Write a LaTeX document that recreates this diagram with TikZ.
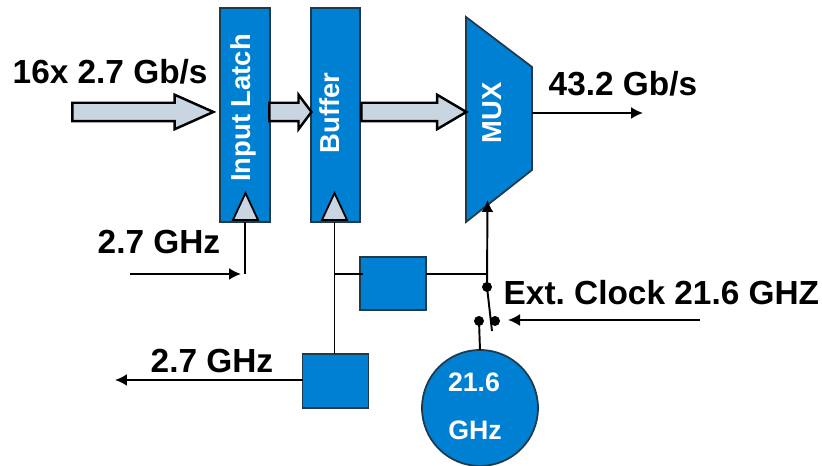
\documentclass[tikz,border=0pt]{standalone}
\usepackage{fontspec}
\setmainfont{Liberation Sans}
\frenchspacing
\usetikzlibrary{shapes.arrows,shapes.geometric,arrows.meta}
\definecolor{blockblue}{HTML}{0080D2}
\definecolor{arrowgrey}{HTML}{C9D6E1}
\definecolor{edgegrey}{HTML}{1F3A4D}
\tikzset{
  block/.style={draw=edgegrey, line width=0.5pt, fill=blockblue, inner sep=0pt},
  fat/.style 2 args={single arrow, draw=black, line width=0.7pt, fill=arrowgrey, inner sep=0.08cm,
    minimum height=#1, minimum width=0.32cm, single arrow head extend=0.08cm, single arrow tip angle=#2},
  clk/.style={isosceles triangle, isosceles triangle apex angle=50, shape border rotate=90,
    draw=black, line width=0.5pt, fill=arrowgrey, inner sep=0pt, minimum height=0.27cm, minimum width=0.25cm},
  lbl/.style={font=\fontsize{9.5}{11}\selectfont\bfseries, inner sep=0pt},
  inner/.style={font=\fontsize{7.8}{9}\selectfont\bfseries, text=white, inner sep=0pt},
  dot/.style={circle, fill=black, inner sep=0pt, minimum size=0.1cm},
  wire/.style={line width=0.55pt},
  sig/.style={line width=0.55pt, -{Latex[length=0.12cm,width=0.12cm]}},
}
\begin{document}
\begin{tikzpicture}
\useasboundingbox (0,0) rectangle (8.22,4.66);

%% blocks
\node[block, minimum width=0.5cm, minimum height=2.14cm] (latch) at (2.45,3.51) {};
\node[block, minimum width=0.49cm, minimum height=2.14cm] (buffer) at (3.355,3.51) {};
\node[inner, rotate=90] (latchtext) at (2.43,3.58) {Input Latch};
\node[inner, rotate=90] (buffertext) at (3.3,3.53) {Buffer};
\coordinate (muxa) at (4.66,4.49);
\coordinate (muxb) at (5.32,3.99);
\coordinate (muxc) at (5.32,2.96);
\coordinate (muxd) at (4.66,2.44);
\draw[block] (muxa) -- (muxb) -- (muxc) -- (muxd) -- cycle;
\node[inner, rotate=90] (muxtext) at (4.92,3.53) {MUX};
\node[block, minimum width=0.66cm, minimum height=0.53cm] (divider) at (3.93,1.825) {};
\node[block, minimum width=0.66cm, minimum height=0.54cm] (outdiv) at (3.355,0.85) {};
\node[block, circle, minimum size=1.16cm] (osc) at (4.8,0.58) {};
\node[inner, font=\fontsize{7.6}{9}\selectfont\bfseries] (osctop) at (4.74,0.84) {21.6};
\node[inner, font=\fontsize{7.6}{9}\selectfont\bfseries] (oscbot) at (4.75,0.36) {GHz};

%% wide arrows
\node[fat={1.41cm}{48}] (inarrow) at (1.325,3.54) {};
\node[fat={0.42cm}{106}] (latcharrow) at (2.87,3.54) {};
\node[fat={1.05cm}{61}] (bufarrow) at (4.06,3.54) {};

%% clock triangles
\node[clk, anchor=south] (latchclk) at (2.455,2.45) {};
\node[clk, anchor=south] (bufclk) at (3.345,2.45) {};

%% switch
\node[dot] (swtop) at (4.87,1.79) {};
\node[dot] (swleft) at (4.79,1.45) {};
\node[dot] (swright) at (4.95,1.45) {};
\coordinate (swend) at (4.92,1.35);

%% free ends and junctions
\coordinate (latchfoot) at (2.45,1.92);
\coordinate (clkin) at (1.3,1.92);
\coordinate (clkstop) at (2.41,1.92);
\coordinate (bufnode) at (3.345,1.92);
\coordinate (divnode) at (4.875,1.92);
\coordinate (muxin) at (4.875,2.66);
\coordinate (outend) at (6.43,3.53);
\coordinate (muxout) at (5.32,3.53);
\coordinate (extin) at (7.0,1.46);
\coordinate (extstop) at (5.08,1.46);
\coordinate (outleft) at (1.15,0.86);
\coordinate (outright) at (3.03,0.86);

%% wires
\draw[wire] (2.45,2.44) -- (latchfoot);
\draw[sig] (clkin) -- (clkstop);
\draw[wire] (3.345,2.44) -- (3.345,1.12);
\draw[wire] (bufnode) -- (3.63,1.92);
\draw[wire] (4.26,1.92) -- (divnode);
\draw[sig] (swtop.center) -- (muxin);
\draw[wire] (swtop.center) -- (swend);
\draw[wire] (swleft.center) -- (4.8,1.16);
\draw[sig] (muxout) -- (outend);
\draw[sig] (extin) -- (extstop);
\draw[sig] (outright) -- (outleft);

%% labels
\node[lbl, anchor=west] (inlabel) at (0.12,3.94) {16x 2.7 Gb/s};
\node[lbl, anchor=west] (outlabel) at (5.48,3.82) {43.2 Gb/s};
\node[lbl, anchor=west] (clklabel) at (0.97,2.24) {2.7 GHz};
\node[lbl, anchor=west] (extlabel) at (5.03,1.73) {Ext. Clock 21.6 GHZ};
\node[lbl, anchor=west] (outclk) at (1.5,1.05) {2.7 GHz};
\end{tikzpicture}
\end{document}
